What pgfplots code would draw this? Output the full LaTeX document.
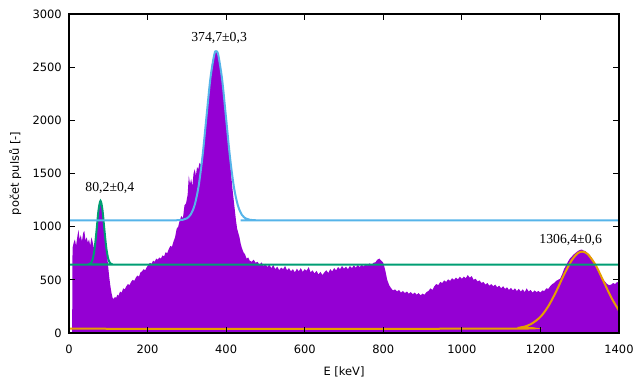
\documentclass[border=0pt]{standalone}
\usepackage{fontspec}
\setmainfont{DejaVu Sans}
\newfontfamily\seriffont{Liberation Serif}
\usepackage{pgfplots}
\pgfplotsset{compat=1.18}
\definecolor{spec}{HTML}{9400D3}
\definecolor{fitc}{HTML}{56B4E9}
\definecolor{fitg}{HTML}{009E73}
\definecolor{fito}{HTML}{E69F00}
\begin{document}
\begin{tikzpicture}
\path[use as bounding box] (-51.75pt,-38.25pt) rectangle (428.25pt,249.75pt);
\begin{axis}[
  scale only axis, width=412.5pt, height=239.25pt,
  at={(0,0)}, anchor=south west,
  xmin=0, xmax=1400, ymin=0, ymax=3000,
  xtick={0,200,...,1400}, ytick={0,500,...,3000},
  tick pos=both, tick align=inside, major tick length=4.5pt,
  axis line style={line width=0.9pt},
  every tick/.style={black, line width=0.8pt},
  axis on top,
  scaled ticks=false,
  /pgf/number format/1000 sep={},
  /pgf/number format/assume math mode=true,
  font=\fontsize{8.6pt}{10pt}\selectfont,
  ticklabel style={font=\fontsize{8.6pt}{10pt}\selectfont},
  yticklabel style={inner sep=0pt, xshift=-5.25pt},
  xticklabel style={inner sep=0pt, yshift=-8.5pt},
  xlabel={E [keV]}, ylabel={počet pulsů [-]},
  xlabel style={at={(axis description cs:0.5,-0.1223)}, anchor=center, inner sep=0pt},
  ylabel style={at={(axis description cs:-0.098,0.5)}, anchor=center, inner sep=0pt},
]
\addplot[fill=spec, draw=none] table {
x y
8 0
9 800
12 850
15 880
18 820
21 900
24 970
27 880
30 920
33 860
36 940
39 960
42 870
45 900
48 850
51 880
54 820
57 900
60 860
63 800
66 830
69 900
72 1050
75 1180
78 1230
81 1245
84 1180
87 1060
90 950
93 860
96 790
99 650
102 540
105 450
108 380
111 330
114 320
117 340
120 330
123 360
126 350
130 390
134 380
138 420
142 410
146 440
150 460
154 450
158 480
162 500
166 490
170 520
174 540
178 530
182 570
186 580
190 600
194 590
198 620
202 640
206 660
210 650
214 680
218 670
222 700
226 690
230 710
234 700
238 730
242 720
246 760
250 750
254 790
258 820
262 810
266 860
270 900
274 980
278 1000
282 1060
286 1100
290 1080
294 1200
298 1220
302 1300
305 1480
308 1400
311 1450
314 1380
317 1500
320 1540
323 1480
326 1560
329 1540
332 1600
335 1580
338 1640
341 1700
344 1820
347 1950
350 2050
353 2150
356 2250
359 2380
362 2480
365 2560
368 2600
371 2640
374 2650
377 2630
380 2600
383 2560
386 2500
389 2420
392 2330
395 2220
398 2100
401 1970
404 1850
407 1720
410 1600
413 1480
416 1360
419 1260
422 1160
425 1060
428 980
431 940
434 900
437 840
440 800
444 760
448 740
452 700
456 710
460 680
465 670
470 690
475 660
480 670
485 640
490 665
495 630
500 650
505 620
510 645
515 610
520 640
525 600
530 625
535 590
540 615
545 600
550 630
555 590
560 610
565 580
570 600
575 570
580 605
585 580
590 610
595 575
600 600
605 585
610 620
615 570
620 590
625 560
630 585
635 550
640 575
645 545
650 570
655 590
660 565
665 600
670 580
675 610
680 590
685 620
690 600
695 630
700 605
705 625
710 600
715 630
720 610
725 635
730 615
735 640
740 620
745 645
750 625
755 650
760 635
765 655
770 640
775 660
780 665
785 690
790 700
795 680
800 660
805 590
810 500
815 450
820 420
825 400
830 410
835 390
840 405
845 380
850 395
855 375
860 390
865 370
870 385
875 365
880 380
885 360
890 375
895 355
900 370
905 360
910 385
915 395
920 420
925 405
930 440
935 460
940 450
945 480
950 470
955 495
960 480
965 505
970 490
975 515
980 500
985 520
990 505
995 530
1000 510
1005 530
1010 515
1015 545
1020 520
1025 535
1030 500
1035 510
1040 485
1045 495
1050 470
1055 480
1060 455
1065 470
1070 445
1075 460
1080 440
1085 455
1090 430
1095 445
1100 420
1105 440
1110 415
1115 430
1120 405
1125 425
1130 400
1135 420
1140 395
1145 415
1150 390
1155 410
1160 385
1165 420
1170 390
1175 405
1180 380
1185 400
1190 385
1195 395
1200 380
1205 400
1210 395
1215 420
1220 415
1225 440
1230 460
1235 470
1240 490
1245 500
1250 510
1255 550
1260 600
1265 635
1270 670
1275 700
1280 720
1285 740
1290 755
1295 770
1300 780
1305 785
1310 775
1315 770
1320 750
1325 735
1330 710
1335 680
1340 640
1345 600
1350 560
1355 530
1360 500
1365 480
1370 460
1375 450
1380 455
1385 470
1390 460
1395 480
1400 470
} \closedcycle;
\addplot[fito, line width=1.5pt, smooth] coordinates {
(0,40) (1100,40.6) (1150,52.7) (1175,81.8) (1200,151.6) (1220,251) (1240,390) (1260,548) (1280,686) (1295,750) (1306.4,765) (1320,743) (1340,642) (1360,491) (1380,336) (1400,210)
};
\addplot[fitg, line width=1.5pt, smooth] coordinates {
(0,643) (40,643) (50,645) (55,655) (60,691) (65,787) (70,959) (75,1151) (80.2,1243) (85,1163) (90,975) (95,798) (100,696) (105,656) (110,646) (120,643) (1400,643)
};
\addplot[fitc, line width=1.5pt, smooth] coordinates {
(0,1060) (250,1060) (275,1060.6) (290,1065) (300,1078) (310,1116) (320,1205) (330,1382) (340,1667) (350,2036) (360,2397) (370,2622) (374.7,2650) (380,2615) (390,2378) (400,2013) (410,1647) (420,1368) (430,1198) (440,1112) (450,1077) (460,1065) (475,1060.5) (500,1060) (1400,1060)
};
\node[font=\seriffont\fontsize{10.3pt}{12pt}\selectfont] at (axis cs:382,2775) {374,7±0,3};
\node[font=\seriffont\fontsize{10.3pt}{12pt}\selectfont] at (axis cs:104,1359) {80,2±0,4};
\node[font=\seriffont\fontsize{10.3pt}{12pt}\selectfont] at (axis cs:1277,875) {1306,4±0,6};
\end{axis}
\end{tikzpicture}
\end{document}
